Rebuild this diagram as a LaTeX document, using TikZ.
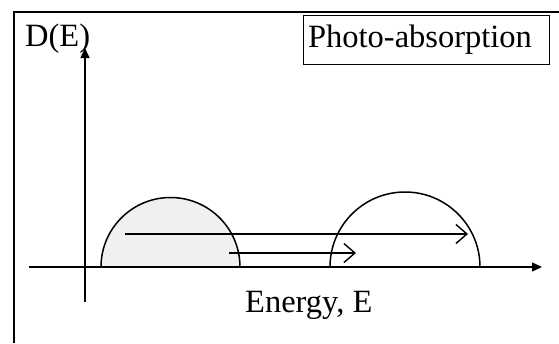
\documentclass[tikz,border=0pt]{standalone}
\usepackage{fontspec}
\setmainfont{Liberation Serif}
\usetikzlibrary{arrows.meta}

\tikzset{
  axisline/.style={line width=1.3pt, -{Triangle[length=10pt, width=9pt]}},
  transition/.style={line width=1.4pt, -{Straight Barb[length=11pt, width=19pt, line width=1.4pt]}},
  band/.style={line width=1.5pt},
  label/.style={inner sep=0pt, font=\fontsize{32.5}{38}\selectfont}
}

\begin{document}
\begin{tikzpicture}[x=1pt, y=-1pt]
  \useasboundingbox (0,0) rectangle (559,343);

  % ── frame (top and left edges only) ──
  \draw[line width=2pt] (14,343) -- (14,12) -- (559,12);

  % ── filled band ──
  \fill[black!6] (101,267) arc[start angle=180, end angle=360, radius=69.5] -- cycle;

  % ── axes ──
  \coordinate (yfoot) at (85,302);
  \coordinate (ytop)  at (85,48);
  \coordinate (xfoot) at (29,267);
  \coordinate (xtip)  at (542,267);
  \draw[axisline] (yfoot) -- (ytop);
  \draw[axisline] (xfoot) -- (xtip);

  % ── bands ──
  \draw[band] (101,267) arc[start angle=180, end angle=360, radius=69.5];
  \draw[band] (330,267) arc[start angle=180, end angle=360, radius=75];

  % ── transitions ──
  \coordinate (longfrom)  at (125,234);
  \coordinate (longto)    at (468,234);
  \coordinate (shortfrom) at (229,253);
  \coordinate (shortto)   at (356,253);
  \draw[transition] (longfrom) -- (longto);
  \draw[transition] (shortfrom) -- (shortto);

  % ── labels ──
  \node[label, anchor=base west] (dos) at (25,46) {D(E)};
  \node[label, anchor=base west] (energy) at (245,312) {Energy, E};
  \node[label, anchor=north west, draw, line width=1.2pt, inner xsep=4.5pt,
        text width=237pt, align=left, minimum height=49pt] (title) at (303,15)
    {Photo-absorption};
\end{tikzpicture}
\end{document}
